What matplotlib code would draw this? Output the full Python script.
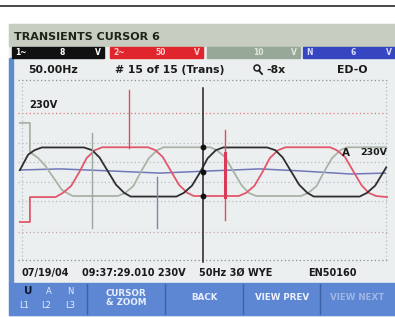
#!/usr/bin/env python3
"""Transients cursor screen (power quality analyser) redrawn with matplotlib."""

import matplotlib

matplotlib.use("Agg")
import matplotlib.pyplot as plt
from matplotlib.patches import Circle, Rectangle

# --- waveform data (time in ms, voltage in V) ---
black_t = [0, 0.9, 1.6, 2.4, 7.0, 7.9, 8.7, 9.6, 10.5, 11.4, 12.1, 17.1, 17.9, 18.8, 19.7,
           20.5, 21.4, 22.2, 27.0, 27.9, 28.7, 29.6, 30.5, 31.4, 32.1, 37.1, 37.9, 38.8, 39.7, 40.0]
black_v = [10, 95, 120, 135, 135, 120, 80, 5, -70, -115, -135, -135, -115, -75, 0,
           75, 120, 135, 135, 120, 80, 5, -70, -115, -135, -135, -115, -75, 0, 25]

red_t = [0, 1.1, 1.1, 3.9, 4.7, 5.6, 6.5, 7.3, 8.2, 9.0, 14.0, 14.8, 15.6, 16.5, 17.4, 18.3,
         19.0, 23.9, 24.7, 25.6, 26.5, 27.3, 28.2, 29.0, 33.9, 34.6, 35.5, 36.4, 37.3, 38.1, 38.9, 40.1]
red_v = [-275, -275, -138, -138, -115, -77, 0, 77, 120, 136, 136, 120, 83, 5, -72, -115,
         -132, -132, -115, -77, 0, 77, 120, 136, 136, 120, 83, 5, -72, -115, -132, -138]

gray_t = [0, 1.1, 1.1, 2.0, 2.8, 3.7, 4.6, 5.5, 5.8, 10.7, 11.5, 12.4, 13.2, 14.1, 15.0, 15.7,
          20.8, 21.5, 22.4, 23.3, 24.2, 25.0, 25.8, 30.7, 31.5, 32.4, 33.2, 34.1, 35.0, 35.7, 40.0]
gray_v = [270, 270, 110, 77, 33, -33, -99, -125, -132, -132, -115, -77, 0, 77, 120, 136,
          136, 120, 83, 5, -72, -115, -132, -132, -115, -77, 0, 77, 120, 136, 136]

blue_t = [0, 4.4, 9.8, 15.3, 20.8, 26.2, 30.6, 36.1, 39.9]
blue_v = [11, 17, 6, -6, 6, 17, 6, -11, -6]

# transient spikes: (time, v_from, v_to, colour key)
spikes = [
    (11.9, 451, 132, "red"),
    (22.4, 231, -264, "red"),
    (7.9, 215, -308, "gray"),
    (15.0, -28, -308, "bluegray"),
]
red_spike_thick = (22.4, 105, -138)

cursor_t = 20.0
cursor_v = [138, 0, -132]
ref_level = 325
grid_levels = [162, 55, -55, -162]

# --- screen texts ---
title = "TRANSIENTS CURSOR 6"
channel_labels = [("1~", "8", "V"), ("2~", "50", "V"), ("", "10", "V"), ("N", "6", "V")]
info_labels = ["50.00Hz", "# 15 of 15 (Trans)", "-8x", "ED-O"]
status_line = ["07/19/04", "09:37:29.010 230V", "50Hz 3Ø WYE", "EN50160"]
buttons = ["CURSOR\n& ZOOM", "BACK", "VIEW PREV", "VIEW NEXT"]

W, H = 395, 317
fig = plt.figure(figsize=(W / 100, H / 100), dpi=100)
fig.patch.set_facecolor("white")

# background axes in pixel units for the instrument chrome
bg = fig.add_axes([0, 0, 1, 1])
bg.set_xlim(0, W)
bg.set_ylim(H, 0)
bg.axis("off")

bg.plot([0, W], [6, 6], color="#3a3a3a", lw=1.3)

# screen body
bg.add_patch(Rectangle((9, 24), W - 9, 292, color="#eceff0"))
bg.add_patch(Rectangle((9, 24), W - 9, 22, color="#c7cdc1"))
bg.add_patch(Rectangle((9, 58), 4, 225, color="#5c8ccc"))
bg.text(14, 37, title, fontsize=8, fontweight="bold", color="#1c2418", va="center")

# channel bar
chan_boxes = [(12, 92, "#111111", "white"), (110, 93, "#e0262c", "#ffd0d0"),
              (207, 93, "#98a898", "#dfe8df"), (303, 92, "#3645c0", "#d8dcff")]
for (x0, w, fc, tc), (a, b, c) in zip(chan_boxes, channel_labels):
    bg.add_patch(Rectangle((x0, 47), w, 11, color=fc))
    bg.text(x0 + 3, 52.5, a, fontsize=5.5, fontweight="bold", color=tc, va="center")
    bg.text(x0 + w * 0.55, 52.5, b, fontsize=5.5, fontweight="bold", color=tc,
            va="center", ha="center")
    bg.text(x0 + w - 6, 52.5, c, fontsize=5.5, fontweight="bold", color=tc,
            va="center", ha="center")

# info row (magnifier glyph drawn as a shape: no installed font has it)
for x, s in zip([28, 115, 266, 337], info_labels):
    bg.text(x, 70, s, fontsize=7.8, fontweight="bold", color="#1a1a1a", va="center")
bg.add_patch(Circle((257, 68), 3, fill=False, ec="#1a1a1a", lw=1.1))
bg.plot([259, 262], [70.5, 74], color="#1a1a1a", lw=1.3)

# status line
for x, s in zip([21, 82, 199, 308], status_line):
    bg.text(x, 273, s, fontsize=7.0, fontweight="bold", color="#1a1a1a", va="center")

# soft key bar
bg.add_patch(Rectangle((9, 283), W - 9, 32, color="#5d87d2"))
for xs in [87, 165, 243, 320]:
    bg.plot([xs, xs], [284, 314], color="#3a63a8", lw=1)
bg.text(28, 291, "U", fontsize=7.5, fontweight="bold", color="#101830", ha="center", va="center")
for x, s in zip([49, 70], ["A", "N"]):
    bg.text(x, 291, s, fontsize=6, color="#e8eeff", ha="center", va="center")
for x, s in zip([24, 46, 70], ["L1", "L2", "L3"]):
    bg.text(x, 305, s, fontsize=6, color="#e8eeff", ha="center", va="center")
btn_centres = [126, 204, 282, 357]
btn_colors = ["#e8eeff", "#e8eeff", "#eef2ff", "#9fb6e4"]
for x, s, c in zip(btn_centres, buttons, btn_colors):
    bg.text(x, 298, s, fontsize=6.3, fontweight="bold", color=c, ha="center", va="center",
            linespacing=1.1)

# --- waveform axes ---
ax = fig.add_axes([18 / W, 1 - 260 / H, 370 / W, 180 / H])
ax.set_xlim(-0.2, 40.2)
ax.set_ylim(-484, 506)
ax.set_facecolor("none")
for s in ax.spines.values():
    s.set_visible(False)
ax.set_xticks([])
ax.set_yticks([])

dot = dict(ls=(0, (1, 2)), lw=0.9)
ax.axhline(506, color="#8a8f98", **dot, clip_on=False)
ax.axhline(-484, color="#8a8f98", **dot, clip_on=False)
for lv in grid_levels:
    ax.axhline(lv, color="#b8bcc4", **dot)
ax.axhline(ref_level, color="#e07a80", **dot)
ax.axhline(-ref_level - 5, color="#c8a0b0", **dot)
ax.axvline(0.2, color="#b8bcc4", **dot)
ax.axvline(40.0, color="#b8bcc4", **dot)

ax.text(1.0, 370, "230V", fontsize=7.2, fontweight="bold", color="#1a1a1a", va="center")
ax.text(35.2, 105, "A", fontsize=7.5, fontweight="bold", color="#1a1a1a", va="center")
ax.text(37.2, 105, "230V", fontsize=6.8, fontweight="bold", color="#1a1a1a", va="center")

ax.plot(blue_t, blue_v, color="#7078b8", lw=1.1)
ax.plot(gray_t, gray_v, color="#a9b3a6", lw=1.3)
ax.plot(red_t, red_v, color="#e2576c", lw=1.3)
ax.plot(black_t, black_v, color="#2e2e2e", lw=1.3)

spike_colors = {"red": "#e04a62", "gray": "#9ea6a0", "bluegray": "#7d84a8"}
for t, v0, v1, key in spikes:
    ax.plot([t, t], [v0, v1], color=spike_colors[key], lw=1.0)
ax.plot([red_spike_thick[0]] * 2, red_spike_thick[1:], color="#d83a58", lw=2.2)

ax.plot([cursor_t, cursor_t], [462, -495], color="#222222", lw=1.1, clip_on=False)
ax.plot([cursor_t] * 3, cursor_v, "o", color="#111111", ms=3.2)

fig.savefig("out.png", dpi=100)
